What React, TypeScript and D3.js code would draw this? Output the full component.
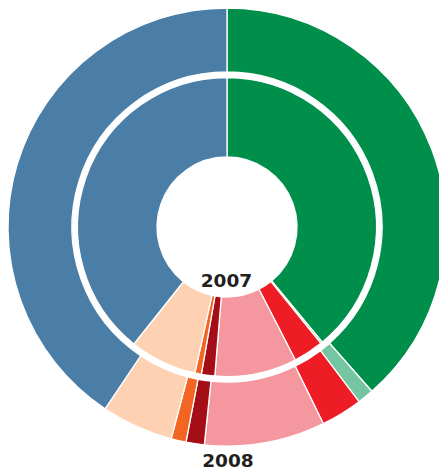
import React from "react";
import * as d3 from "d3";

const categories = ["A", "B", "C", "D", "E", "F", "G", "H"];
const colors = ["#008f4b", "#74c6a3", "#ee1d25", "#f4979f", "#a50d17", "#f26522", "#fdd1b2", "#4a7ea7"];
const values2007 = [39.0, 0.2, 3.25, 8.85, 1.45, 0.7, 7.25, 39.3];
const values2008 = [38.5, 1.2, 3.05, 8.9, 1.35, 1.1, 5.3, 40.6];
const yearLabels = ["2007", "2008"];

const W = 439;
const H = 470;
const cx = 227;
const cy = 227;

export default function App() {
  const pie = d3
    .pie<number>()
    .sort(null)
    .value((d) => d)
    .startAngle(0)
    .endAngle(2 * Math.PI);

  const innerArc = d3.arc<d3.PieArcDatum<number>>().innerRadius(70).outerRadius(149.5);
  const outerArc = d3.arc<d3.PieArcDatum<number>>().innerRadius(155).outerRadius(219);

  const arcs07 = pie(values2007);
  const arcs08 = pie(values2008);

  return (
    <svg
      width={W}
      height={H}
      style={{ position: "absolute", left: 0, top: 0 }}
      viewBox={`0 0 ${W} ${H}`}
    >
      <rect width={W} height={H} fill="#ffffff" />
      <g transform={`translate(${cx},${cy})`}>
        {arcs08.map((a, i) => (
          <path
            key={"o" + categories[i]}
            d={outerArc(a) || ""}
            fill={colors[i]}
            stroke="#ffffff"
            strokeWidth={1.3}
          />
        ))}
        {arcs07.map((a, i) => (
          <path
            key={"i" + categories[i]}
            d={innerArc(a) || ""}
            fill={colors[i]}
            stroke="#ffffff"
            strokeWidth={1.3}
          />
        ))}
      </g>
      <text
        x={226.5}
        y={286.5}
        textAnchor="middle"
        fontFamily="DejaVu Sans, sans-serif"
        fontWeight="bold"
        fontSize={18.5}
        fill="#231f20"
      >
        {yearLabels[0]}
      </text>
      <text
        x={228}
        y={466.5}
        textAnchor="middle"
        fontFamily="DejaVu Sans, sans-serif"
        fontWeight="bold"
        fontSize={18.5}
        fill="#231f20"
      >
        {yearLabels[1]}
      </text>
    </svg>
  );
}
